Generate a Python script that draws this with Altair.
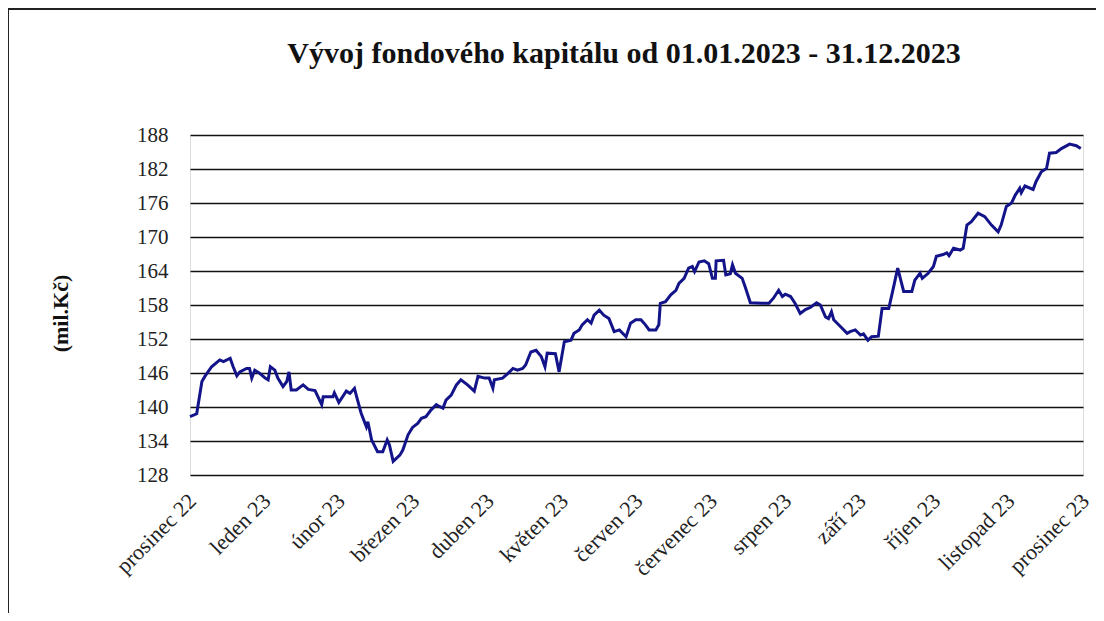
import altair as alt
import pandas as pd

# month position (0 = prosinec 22 ... 12 = prosinec 23)
months = [0.00, 0.09, 0.16, 0.20, 0.29, 0.40, 0.45, 0.54, 0.58, 0.63, 0.67, 0.76, 0.80, 0.83, 0.87, 0.94,
          1.01, 1.05, 1.08, 1.14, 1.18, 1.25, 1.30, 1.33, 1.36, 1.43, 1.52, 1.59, 1.68, 1.77, 1.79, 1.92, 1.94,
          2.00, 2.10, 2.15, 2.21, 2.24, 2.30, 2.37, 2.39, 2.44, 2.52, 2.59, 2.65, 2.68, 2.73, 2.82, 2.86, 2.93, 2.99,
          3.06, 3.11, 3.17, 3.24, 3.31, 3.35, 3.40, 3.44, 3.51, 3.58, 3.64, 3.73, 3.82, 3.87, 3.96,
          4.02, 4.07, 4.09, 4.20, 4.27, 4.34, 4.40, 4.47, 4.51, 4.58, 4.65, 4.72, 4.77, 4.80, 4.91, 4.96,
          5.03, 5.12, 5.16, 5.23, 5.27, 5.34, 5.39, 5.43, 5.50, 5.56, 5.63, 5.70, 5.77, 5.86, 5.92, 5.99,
          6.06, 6.12, 6.17, 6.26, 6.30, 6.32, 6.39, 6.46, 6.53, 6.57, 6.64, 6.70, 6.75, 6.78, 6.84, 6.91, 6.97,
          7.02, 7.06, 7.07, 7.17, 7.20, 7.26, 7.29, 7.33, 7.42, 7.46, 7.53, 7.69, 7.78, 7.84, 7.91, 7.96,
          8.00, 8.07, 8.13, 8.20, 8.27, 8.34, 8.42, 8.47, 8.54, 8.58, 8.62, 8.65, 8.74, 8.83, 8.87, 8.94,
          9.01, 9.05, 9.11, 9.16, 9.25, 9.30, 9.39, 9.45, 9.51, 9.59, 9.70, 9.74, 9.81, 9.84, 9.92, 9.99,
          10.03, 10.12, 10.17, 10.20, 10.26, 10.35, 10.39, 10.44, 10.50, 10.59, 10.68, 10.77, 10.86, 10.90, 10.97,
          11.04, 11.09, 11.15, 11.17, 11.22, 11.33, 11.37, 11.44, 11.51, 11.55, 11.64, 11.71, 11.82, 11.91, 11.97]

values = [138.3, 138.8, 144.5, 145.4, 147.1, 148.3, 148.0, 148.6, 147.1, 145.5, 146.2, 146.8, 146.8, 145.1, 146.5, 145.9,
          145.1, 144.8, 147.1, 146.5, 145.1, 143.6, 144.5, 146.2, 143.0, 143.0, 143.9, 143.1, 142.9, 140.4, 141.8, 141.8, 142.5,
          140.8, 142.8, 142.4, 143.3, 141.8, 138.9, 136.5, 137.4, 134.2, 132.1, 132.1, 134.2, 133.3, 130.4, 131.5, 132.4, 135.1, 136.4,
          137.1, 138.0, 138.3, 139.5, 140.4, 140.1, 139.8, 141.2, 142.1, 143.9, 144.8, 143.9, 142.8, 145.4, 145.1,
          145.1, 143.3, 144.8, 145.1, 145.9, 146.8, 146.5, 146.8, 147.4, 149.7, 150.0, 148.9, 147.1, 149.5, 149.4, 146.2,
          151.5, 151.8, 153.0, 153.6, 154.5, 155.4, 154.8, 156.2, 157.1, 156.2, 155.6, 153.3, 153.6, 152.4, 154.8, 155.4,
          155.4, 154.5, 153.6, 153.6, 154.5, 158.3, 158.6, 159.8, 160.6, 161.8, 162.7, 164.5, 164.8, 163.9, 165.6, 165.8, 165.3,
          162.7, 162.7, 165.8, 165.9, 163.3, 163.5, 165.1, 163.6, 162.7, 161.2, 158.4, 158.3, 158.3, 159.2, 160.6, 159.5,
          159.9, 159.5, 158.3, 156.5, 157.2, 157.6, 158.4, 158.0, 155.9, 155.6, 156.8, 155.4, 154.2, 153.0, 153.3, 153.6,
          152.7, 152.9, 151.8, 152.4, 152.5, 157.4, 157.4, 160.9, 164.5, 160.4, 160.4, 162.4, 163.6, 162.7, 163.6, 164.8,
          166.6, 166.9, 167.2, 166.7, 168.0, 167.7, 168.0, 172.1, 172.7, 174.2, 173.6, 172.1, 170.9, 172.1, 175.4,
          176.0, 177.4, 178.6, 177.8, 179.0, 178.4, 179.8, 181.5, 182.1, 184.8, 184.9, 185.6, 186.4, 186.1, 185.6]

month_labels = ["prosinec 22", "leden 23", "únor 23", "březen 23", "duben 23", "květen 23", "červen 23",
                "červenec 23", "srpen 23", "září 23", "říjen 23", "listopad 23", "prosinec 23"]
y_ticks = [128, 134, 140, 146, 152, 158, 164, 170, 176, 182, 188]

title_text = "Vývoj fondového kapitálu od 01.01.2023 - 31.12.2023"
y_title = "(mil.Kč)"

df = pd.DataFrame({"m": months, "v": values})
FONT = "Liberation Serif"

label_expr = "[" + ",".join("'" + s + "'" for s in month_labels) + "][round(datum.value)]"

one = pd.DataFrame({"a": [0]})

frame = alt.Chart(one).mark_rect(
    fill=None, stroke="#222222", strokeWidth=2
).encode(
    x=alt.value(-182), x2=alt.value(960), y=alt.value(-126), y2=alt.value(560)
)

title = alt.Chart(one).mark_text(
    font=FONT, fontSize=30, fontWeight="bold", color="#111111", align="center", baseline="alphabetic"
).encode(
    x=alt.value(434), y=alt.value(-72), text=alt.value(title_text)
)

line = alt.Chart(df).mark_line(color="#14148a", strokeWidth=3).encode(
    x=alt.X("m:Q",
            scale=alt.Scale(domain=[0, 12], nice=False, zero=False),
            axis=alt.Axis(values=list(range(13)), labelExpr=label_expr, title=None, grid=False,
                          ticks=False, tickSize=0, domain=False, labelAngle=-45, labelAlign="right",
                          labelBaseline="top", labelPadding=15, labelOffset=-5, labelFont=FONT, labelFontSize=22,
                          labelColor="#222222", labelOverlap=False, labelFlush=False)),
    y=alt.Y("v:Q",
            scale=alt.Scale(domain=[128, 188], nice=False, zero=False),
            axis=alt.Axis(values=y_ticks, title=y_title, grid=True, gridColor="#111111", gridWidth=1.5,
                          ticks=False, tickSize=0, domain=False, labelPadding=22, labelFont=FONT,
                          labelFontSize=21, labelColor="#222222", titleFont=FONT, titleFontSize=22,
                          titleFontWeight="bold", titleColor="#111111", titleX=-130, titleY=178,
                          titleBaseline="middle", titleAngle=-90, titleAlign="center"))
)

chart = alt.layer(frame, title, line).properties(
    width=893,
    height=340,
    padding={"left": 182, "top": 127, "right": 13, "bottom": 138},
    autosize=alt.AutoSizeParams(type="none"),
).configure_view(stroke="#111111", strokeWidth=2).configure(background="white")

chart.save("out.html", embed_options={"renderer": "svg", "actions": False})
